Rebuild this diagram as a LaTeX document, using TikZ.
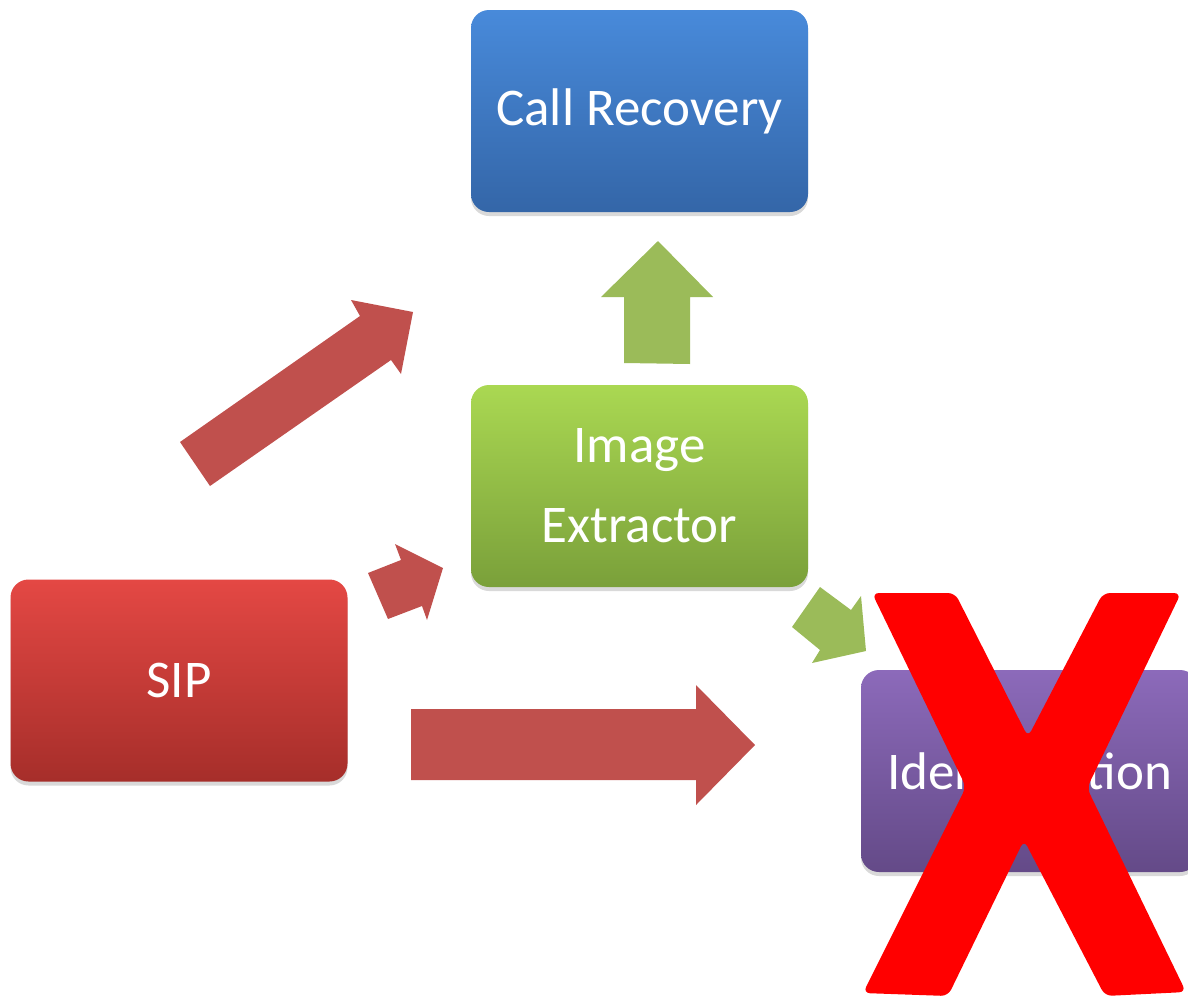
\documentclass[tikz,border=0pt]{standalone}
\usepackage{fontspec}
\setmainfont{Carlito}
\usetikzlibrary{shadows}
\definecolor{bluetop}{RGB}{72,138,218}
\definecolor{bluebot}{RGB}{52,102,168}
\definecolor{greentop}{RGB}{170,216,82}
\definecolor{greenbot}{RGB}{122,160,58}
\definecolor{redtop}{RGB}{228,72,68}
\definecolor{redbot}{RGB}{166,46,42}
\definecolor{purptop}{RGB}{140,106,186}
\definecolor{purpbot}{RGB}{100,74,136}
\definecolor{arrowred}{RGB}{192,80,77}
\definecolor{arrowgreen}{RGB}{155,187,89}
\definecolor{crossred}{RGB}{255,0,0}
\begin{document}
\begin{tikzpicture}[x=1pt,y=-1pt,
  box/.style={rounded corners=18pt, minimum width=337pt, minimum height=202pt,
    text=white, font=\fontsize{53}{80}\selectfont, align=center, inner sep=0pt,
    drop shadow={shadow xshift=0pt, shadow yshift=-4pt, opacity=0.3}},
  bluebox/.style={box, top color=bluetop, bottom color=bluebot},
  greenbox/.style={box, top color=greentop, bottom color=greenbot},
  redbox/.style={box, top color=redtop, bottom color=redbot},
  purpbox/.style={box, top color=purptop, bottom color=purpbot},
  redarrow/.style={fill=arrowred},
  greenarrow/.style={fill=arrowgreen},
  cross/.style={fill=crossred, rounded corners=7pt}]
\useasboundingbox (0,0) rectangle (1188,999);
\clip (0,0) rectangle (1188,999);

\node[bluebox] (call) at (639.5,111) {Call Recovery};
\node[greenbox] (img) at (639.5,486) {Image\\Extractor};
\node[redbox] (sip) at (179,680.5) {SIP};
\node[purpbox] (ident) at (1029.5,771) {Identification};

% block arrows
\fill[redarrow] (180,442) -- (360,316) -- (351,300) -- (413,312) -- (401,374) -- (391,360) -- (210,486) -- cycle;
\fill[redarrow] (368,573) -- (401,560) -- (395,544) -- (443,568) -- (427,620) -- (422,606) -- (388,619) -- cycle;
\fill[redarrow] (411,709) -- (696,709) -- (696,685) -- (755,745) -- (696,805) -- (696,780) -- (411,780) -- cycle;
\fill[greenarrow] (624,363) -- (624,297) -- (601,297) -- (658,241) -- (713,297) -- (690,297) -- (690,364) -- cycle;
\fill[greenarrow] (820,587) -- (851,610) -- (861,596) -- (866,651) -- (812,663) -- (820,650) -- (792,627) -- cycle;

% cross
\fill[cross] (872,593) -- (955,593) -- (1028,737) -- (1103,593) -- (1181,593)
  -- (1087,788) -- (1186,992) -- (1105,996) -- (1024,840) -- (948,996)
  -- (863,993) -- (966,787) -- cycle;
\end{tikzpicture}
\end{document}
